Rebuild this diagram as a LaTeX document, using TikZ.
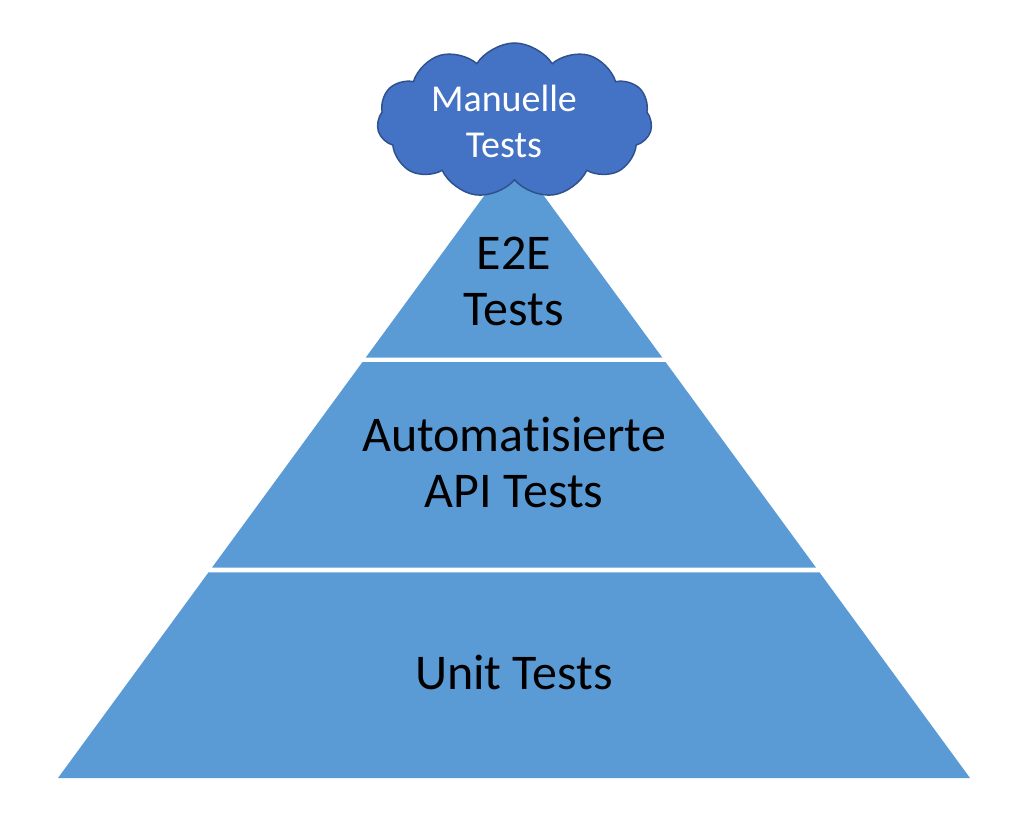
\documentclass[tikz,border=0pt]{standalone}
\usepackage{fontspec}
\setmainfont{Carlito}[Ligatures={NoCommon,NoDiscretionary,NoContextual}]
\usetikzlibrary{calc,shapes.symbols}

\definecolor{layerblue}{HTML}{5B9BD5}
\definecolor{cloudblue}{HTML}{4472C4}
\definecolor{cloudline}{HTML}{2F528F}

\tikzset{
    layer/.style={fill=layerblue},
    layertext/.style={align=center, text=black, inner sep=0pt,
        font=\fontsize{50}{56}\selectfont},
    cloudtext/.style={align=center, text=white, inner sep=0pt,
        font=\fontsize{38}{46}\selectfont}
}

\begin{document}
\begin{tikzpicture}[x=1pt, y=-1pt]
    \useasboundingbox (0,0) rectangle (1024,826);

    % Corners of the pyramid (apex is hidden behind the cloud)
    \coordinate (Apex) at (514,155);
    \coordinate (BL) at (58,778);
    \coordinate (BR) at (970,778);

    % Band edges on both sides, as fractions from apex to base
    \coordinate (L1) at ($(Apex)!0.3254!(BL)$);
    \coordinate (R1) at ($(Apex)!0.3254!(BR)$);
    \coordinate (L2) at ($(Apex)!0.3323!(BL)$);
    \coordinate (R2) at ($(Apex)!0.3323!(BR)$);
    \coordinate (L3) at ($(Apex)!0.6624!(BL)$);
    \coordinate (R3) at ($(Apex)!0.6624!(BR)$);
    \coordinate (L4) at ($(Apex)!0.6701!(BL)$);
    \coordinate (R4) at ($(Apex)!0.6701!(BR)$);

    % --- PYRAMID BANDS ---
    \fill[layer] (Apex) -- (R1) -- (L1) -- cycle;          % E2E
    \fill[layer] (L2) -- (R2) -- (R3) -- (L3) -- cycle;    % API
    \fill[layer] (L4) -- (R4) -- (BR) -- (BL) -- cycle;    % Unit

    % --- LABELS ---
    \node[layertext] (e2e) at (514,281.5) {E2E\\Tests};
    \node[layertext] (api) at (514,462) {Automatisierte\\API Tests};
    \node[layertext] (unit) at (514,672.5) {Unit Tests};

    % --- CLOUD ON TOP ---
    \node[cloud, cloud puffs=11, cloud puff arc=115, aspect=1.77,
        minimum width=275pt, minimum height=155pt, inner sep=0pt,
        fill=cloudblue, draw=cloudline, line width=1.5pt] (manual) at (514.5,120.5) {};
    \node[cloudtext] (manualtext) at (504,121.5) {Manuelle\\Tests};
\end{tikzpicture}
\end{document}
